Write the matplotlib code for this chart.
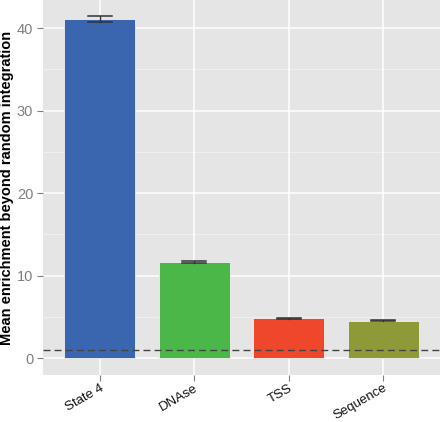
import matplotlib
matplotlib.use("Agg")
import matplotlib.pyplot as plt
import matplotlib.transforms as mtransforms
import numpy as np

plt.rcParams['font.family'] = ['Liberation Sans', 'DejaVu Sans']

categories = ["State 4", "DNAse", "TSS", "Sequence"]
means = [41.05, 11.65, 4.8, 4.52]
errors = [0.36, 0.08, 0.05, 0.05]
colors = ["#3A66B0", "#4AB748", "#EF472B", "#8E9A38"]
baseline = 1.0
yticks = [0, 10, 20, 30, 40]

fig = plt.figure(figsize=(4.4, 4.22), dpi=100)
ax = fig.add_axes([43/440, 47/422, 397/440, 375/422])
ax.set_facecolor("#E5E5E5")

x = np.arange(len(categories))
ax.set_xlim(-0.6, len(categories) - 0.4)
ax.set_ylim(-2.06, 43.4)

# grid
for v in [5, 15, 25, 35]:
    ax.axhline(v, color="#F2F2F2", lw=0.6, zorder=0)
for v in yticks:
    ax.axhline(v, color="white", lw=1.1, zorder=0)
for v in x:
    ax.axvline(v, color="white", lw=1.1, zorder=0)

ax.bar(x, means, width=0.75, color=colors, edgecolor="#F0F0F0", linewidth=0.6, zorder=2)
for xi, m, e in zip(x, means, errors):
    ax.plot([xi, xi], [m - e, m + e], color="#333333", lw=1.0, zorder=3)
    ax.plot([xi - 0.125, xi + 0.125], [m + e, m + e], color="#333333", lw=1.1, zorder=3)
    ax.plot([xi - 0.125, xi + 0.125], [m - e, m - e], color="#333333", lw=1.1, zorder=3)

ax.axhline(baseline, color="#444444", lw=1.0, ls=(0, (5, 3)), zorder=4)

for s in ax.spines.values():
    s.set_visible(False)

ax.set_yticks(yticks)
ax.set_yticklabels([str(v) for v in yticks], color="#7F7F7F", fontsize=10.5)
ax.set_xticks(x)
ax.set_xticklabels(categories, rotation=30, ha="right", va="top", rotation_mode="anchor",
                   fontsize=9.5, color="#111111")
offset = mtransforms.ScaledTranslation(14/100, 2/100, fig.dpi_scale_trans)
for lab in ax.get_xticklabels():
    lab.set_transform(lab.get_transform() + offset)
ax.tick_params(axis="both", color="#7F7F7F", length=4, width=0.8)
ax.tick_params(axis="x", pad=1)
ax.tick_params(axis="y", pad=3)

ax.set_ylabel("Mean enrichment beyond random integration", fontsize=10.5,
              fontweight="bold", color="black")
ax.yaxis.set_label_coords(-0.072, 0.5)

fig.savefig("out.png", dpi=100)
